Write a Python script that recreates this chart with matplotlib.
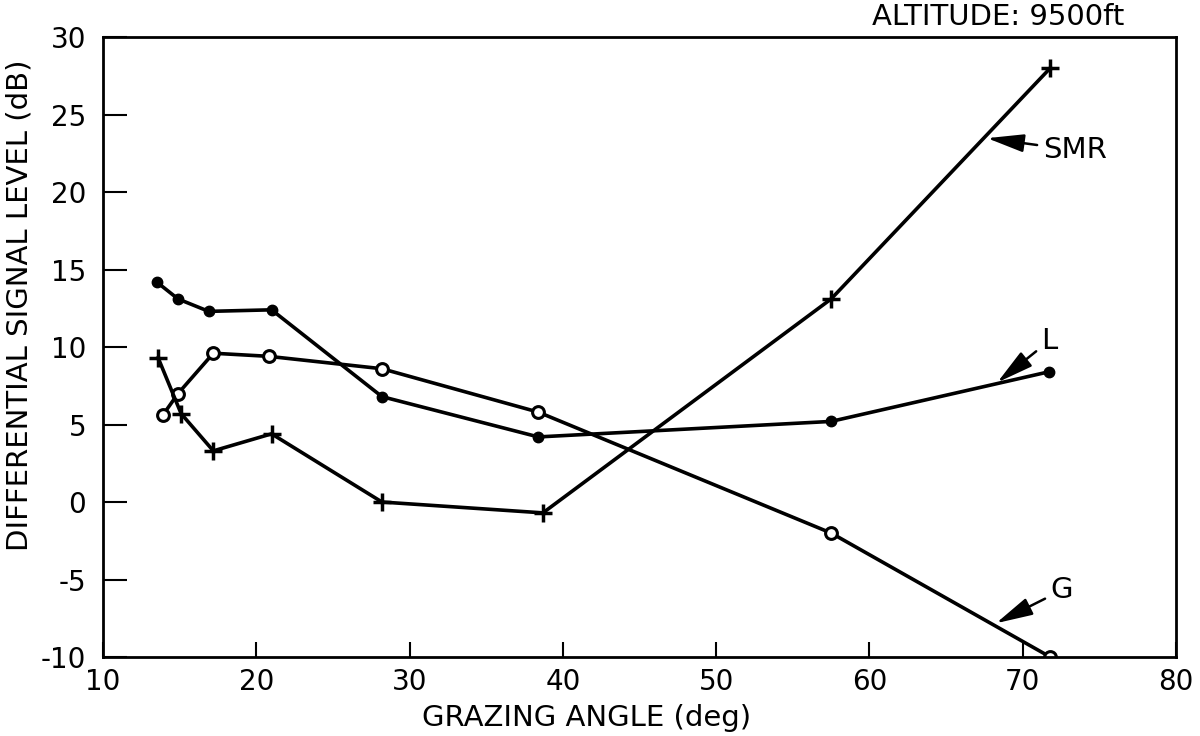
import matplotlib
matplotlib.use("Agg")
import matplotlib.pyplot as plt

# Data
L_x = [13.5, 14.9, 16.9, 21.0, 28.2, 38.4, 57.5, 71.7]
L_y = [14.2, 13.1, 12.3, 12.4, 6.8, 4.2, 5.2, 8.4]

G_x = [13.9, 14.9, 17.2, 20.8, 28.2, 38.4, 57.5, 71.8]
G_y = [5.6, 7.0, 9.6, 9.4, 8.6, 5.8, -2.0, -10.0]

SMR_x = [13.6, 15.1, 17.2, 21.0, 28.2, 38.7, 57.5, 71.8]
SMR_y = [9.3, 5.7, 3.3, 4.4, 0.0, -0.7, 13.1, 28.0]

x_ticks = [10, 20, 30, 40, 50, 60, 70, 80]
y_ticks = [-10, -5, 0, 5, 10, 15, 20, 25, 30]

plt.rcParams['font.family'] = ['DejaVu Sans']
plt.rcParams['axes.unicode_minus'] = False

fig = plt.figure(figsize=(12, 7.36), dpi=100)
ax = fig.add_axes([0.0858, 0.1073, 0.8942, 0.8424])

lw = 2.6
ax.plot(L_x, L_y, color='black', lw=lw, marker='o', ms=7.5, mfc='black', mec='black')
ax.plot(G_x, G_y, color='black', lw=lw, marker='o', ms=8.5, mfc='white', mec='black', mew=2.2)
ax.plot(SMR_x, SMR_y, color='black', lw=lw, marker='+', ms=13, mew=2.5)

ax.set_xlim(10, 80)
ax.set_ylim(-10, 30)
ax.set_xticks(x_ticks)
ax.set_yticks(y_ticks)
ax.tick_params(axis='y', direction='in', length=17, width=1.5, labelsize=20, pad=12)
ax.tick_params(axis='x', direction='in', length=11, width=1.5, labelsize=20, pad=8)
for s in ax.spines.values():
    s.set_linewidth(2)

fig.text(587 / 1200, 1 - 718 / 736, 'GRAZING ANGLE (deg)', fontsize=21,
         ha='center', va='center')
fig.text(20 / 1200, 1 - 305 / 736, 'DIFFERENTIAL SIGNAL LEVEL (dB)', fontsize=21,
         rotation=90, ha='center', va='center')

arrow = dict(arrowstyle='-|>,head_length=0.9,head_width=0.22', color='black',
             lw=1.8, mutation_scale=25)
ax.annotate('SMR', xy=(67.5, 23.5), xytext=(71.3, 22.7), fontsize=21,
            va='center', ha='left', arrowprops=arrow)
ax.annotate('L', xy=(68.2, 7.6), xytext=(71.2, 10.4), fontsize=21,
            va='center', ha='left', arrowprops=arrow)
ax.annotate('G', xy=(68.1, -7.9), xytext=(71.8, -5.7), fontsize=21,
            va='center', ha='left', arrowprops=arrow)

ax.text(0.952, 1.01, 'ALTITUDE: 9500ft', transform=ax.transAxes,
        fontsize=21, ha='right', va='bottom')

fig.savefig('out.png', dpi=100)
